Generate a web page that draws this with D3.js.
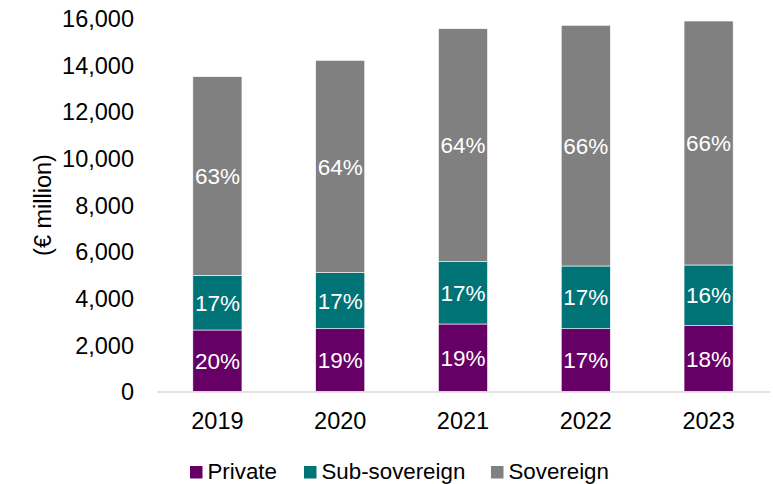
<!DOCTYPE html>
<html>
<head>
<meta charset="utf-8">
<script src="https://cdn.jsdelivr.net/npm/d3@7"></script>
<style>
  html, body { margin: 0; padding: 0; background: #fff; }
  svg { display: block; font-family: "Liberation Sans", Arial, sans-serif; }
</style>
</head>
<body>
<svg id="chart" width="774" height="484"></svg>
<script>
// Lending portfolio by borrower type, € million
const years = ["2019", "2020", "2021", "2022", "2023"];
const seriesNames = ["Private", "Sub-sovereign", "Sovereign"];
const privateVals = [2634, 2689, 2891, 2689, 2818];
const subSovereignVals = [2343, 2399, 2668, 2686, 2600];
const sovereignVals = [8505, 9096, 9978, 10308, 10449];
const yTicks = [0, 2000, 4000, 6000, 8000, 10000, 12000, 14000, 16000];
const colors = ["#660066", "#007377", "#808080"];

const rows = years.map((y, i) => ({
  year: y,
  "Private": privateVals[i],
  "Sub-sovereign": subSovereignVals[i],
  "Sovereign": sovereignVals[i]
}));

const svg = d3.select("#chart");

const x = d3.scaleBand().domain(years).range([156, 770]).paddingInner(0.6).paddingOuter(0.3);
const y = d3.scaleLinear().domain([0, 16000]).range([391.5, 17.9]);

const stack = d3.stack().keys(seriesNames);
const layers = stack(rows);

// y-axis tick labels (no axis line, no tick marks)
const yAxis = d3.axisLeft(y).tickValues(yTicks).tickFormat(d3.format(",")).tickSize(0).tickPadding(0);
const gy = svg.append("g").attr("transform", "translate(134,0)").call(yAxis);
gy.select(".domain").remove();
gy.selectAll("text").attr("font-size", 23.5).attr("fill", "#000")
  .attr("font-family", "Liberation Sans, Arial, sans-serif").attr("dy", "0.36em");

// axis title
svg.append("text")
  .attr("transform", "translate(51,205) rotate(-90)")
  .attr("text-anchor", "middle")
  .attr("font-size", 23.5)
  .attr("fill", "#000")
  .text("(€ million)");

// stacked bars
const g = svg.append("g");
layers.forEach((layer, li) => {
  g.append("g")
    .attr("fill", colors[li])
    .selectAll("rect")
    .data(layer)
    .join("rect")
    .attr("x", d => x(d.data.year))
    .attr("width", x.bandwidth())
    .attr("y", d => y(d[1]))
    .attr("height", d => y(d[0]) - y(d[1]))
    .attr("stroke", "#ffffff")
    .attr("stroke-width", 0.6);
});

// share labels inside each segment
layers.forEach(layer => {
  g.append("g")
    .selectAll("text")
    .data(layer)
    .join("text")
    .attr("x", d => x(d.data.year) + x.bandwidth() / 2)
    .attr("y", d => (y(d[0]) + y(d[1])) / 2)
    .attr("dy", "0.36em")
    .attr("text-anchor", "middle")
    .attr("font-size", 22.5)
    .attr("fill", "#ffffff")
    .text(d => {
      const total = seriesNames.reduce((s, k) => s + d.data[k], 0);
      return Math.round((d[1] - d[0]) / total * 100) + "%";
    });
});

// baseline
svg.append("line")
  .attr("x1", 157).attr("x2", 770)
  .attr("y1", y(0) + 0.5).attr("y2", y(0) + 0.5)
  .attr("stroke", "#d9d9d9").attr("stroke-width", 1.5);

// x-axis labels
const xAxis = d3.axisBottom(x).tickSize(0).tickPadding(0);
const gx = svg.append("g").attr("transform", "translate(0,428.5)").call(xAxis);
gx.select(".domain").remove();
gx.selectAll("text").attr("font-size", 23.5).attr("fill", "#000")
  .attr("font-family", "Liberation Sans, Arial, sans-serif").attr("dy", 0);

// legend
const legendX = [190, 304, 491];
const legend = svg.append("g");
seriesNames.forEach((name, i) => {
  legend.append("rect")
    .attr("x", legendX[i]).attr("y", 466)
    .attr("width", 12.5).attr("height", 12.5)
    .attr("fill", colors[i]);
  legend.append("text")
    .attr("x", legendX[i] + 17.5).attr("y", 479)
    .attr("font-size", 22.3)
    .attr("fill", "#000")
    .text(name);
});
</script>
</body>
</html>
